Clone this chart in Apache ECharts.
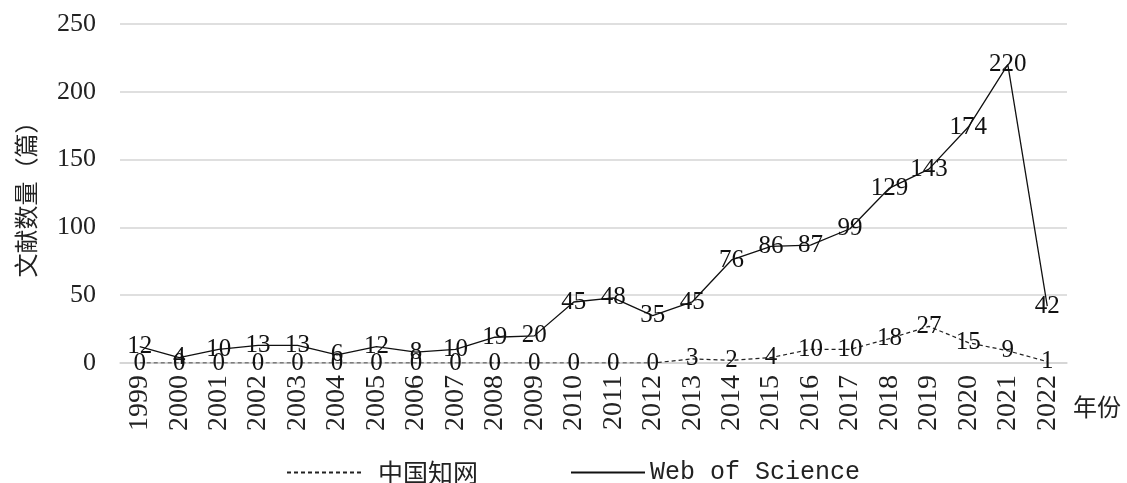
<!DOCTYPE html>
<html>
<head>
<meta charset="utf-8">
<script src="https://cdn.jsdelivr.net/npm/echarts@6/dist/echarts.min.js"></script>
<style>
  html, body { margin: 0; padding: 0; background: #fff; }
  #chart { width: 1127px; height: 483px; }
</style>
</head>
<body>
<div id="chart"></div>
<script>
// Publication counts per year, two databases
const years = ['1999','2000','2001','2002','2003','2004','2005','2006','2007','2008','2009','2010',
               '2011','2012','2013','2014','2015','2016','2017','2018','2019','2020','2021','2022'];
const cnki = [0,0,0,0,0,0,0,0,0,0,0,0,0,0,3,2,4,10,10,18,27,15,9,1];
const wos  = [12,4,10,13,13,6,12,8,10,19,20,45,48,35,45,76,86,87,99,129,143,174,220,42];
const seriesNames = ['中国知网', 'Web of Science'];
const yTicks = { min: 0, max: 250, interval: 50 };

const serif = '"Liberation Serif", "Noto Sans CJK SC", serif';
const cjk = '"Noto Sans CJK SC", sans-serif';
const mono = '"Liberation Mono", "Noto Sans CJK SC", monospace';

// value labels sit centred on each point
const labelStyle = {
  show: true,
  position: 'inside',
  color: '#111',
  fontFamily: serif,
  fontSize: 25
};

const chart = echarts.init(document.getElementById('chart'));
chart.setOption({
  animation: false,
  backgroundColor: '#fff',
  grid: { left: 120, right: 60, top: 24, bottom: 120 },
  legend: {
    left: 281,
    top: 455,
    itemWidth: 74,
    itemHeight: 14,
    itemGap: 92,
    data: [
      { name: seriesNames[0], textStyle: { fontSize: 25, color: '#222', fontFamily: cjk, padding: [0, 0, 0, 12] } },
      { name: seriesNames[1], textStyle: { fontSize: 25, color: '#222', fontFamily: mono } }
    ]
  },
  xAxis: {
    type: 'category',
    data: years,
    boundaryGap: true,
    axisLine: { show: true, lineStyle: { color: '#d4d4d4', width: 1.5 } },
    axisTick: { show: false },
    axisLabel: { rotate: 90, fontSize: 28, color: '#222', fontFamily: serif, margin: 12 },
    // the axis title sits below the axis line, to the right of the last year
    name: '\n年份',
    nameLocation: 'end',
    nameGap: 6,
    nameTextStyle: { fontSize: 24, lineHeight: 29, color: '#222', fontFamily: cjk, align: 'left', verticalAlign: 'top' }
  },
  yAxis: {
    type: 'value',
    min: yTicks.min,
    max: yTicks.max,
    interval: yTicks.interval,
    axisLine: { show: false },
    axisTick: { show: false },
    splitLine: { lineStyle: { color: '#d4d4d4', width: 1.5 } },
    axisLabel: { fontSize: 26, color: '#222', fontFamily: serif, margin: 24 },
    name: '文献数量（篇）',
    nameLocation: 'middle',
    nameGap: 82,
    nameTextStyle: { fontSize: 24, color: '#222', fontFamily: cjk }
  },
  series: [
    {
      name: seriesNames[0],
      type: 'line',
      data: cnki,
      symbol: 'circle',
      symbolSize: 1,
      itemStyle: { color: 'rgba(0,0,0,0)' },
      lineStyle: { color: '#222', width: 1.2, type: [4, 3] },
      label: labelStyle,
      z: 3
    },
    {
      name: seriesNames[1],
      type: 'line',
      data: wos,
      symbol: 'circle',
      symbolSize: 1,
      itemStyle: { color: 'rgba(0,0,0,0)' },
      lineStyle: { color: '#111', width: 1.3, type: 'solid' },
      label: labelStyle,
      z: 4
    }
  ]
});
</script>
</body>
</html>
